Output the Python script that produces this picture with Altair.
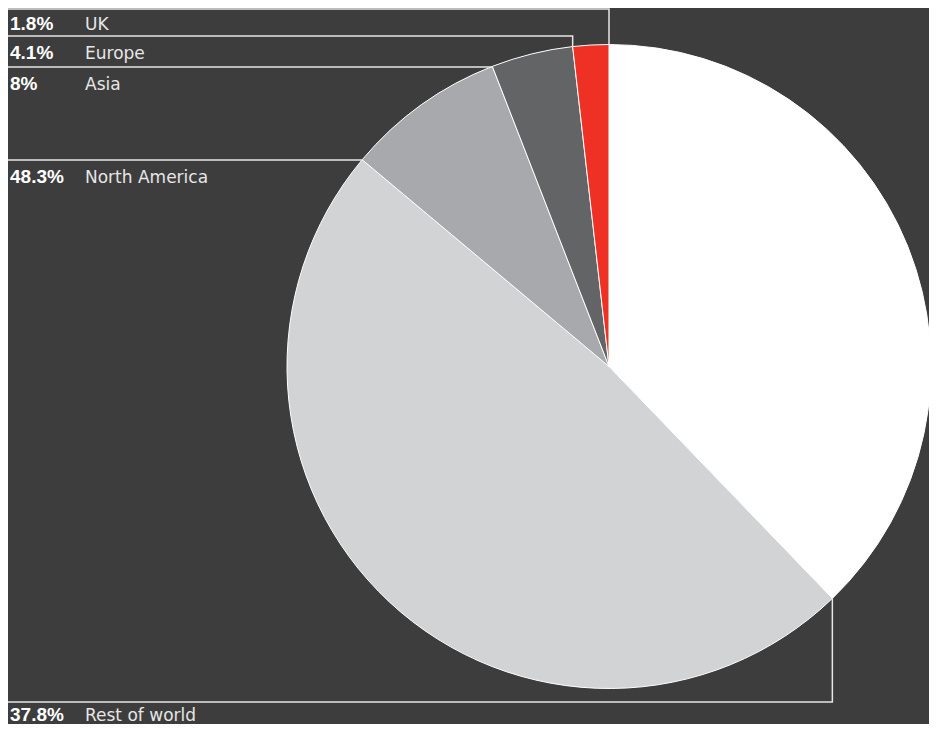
import math
import altair as alt
import pandas as pd

# ---- data (clockwise from 12 o'clock) ----
regions = ["Rest of world", "North America", "Asia", "Europe", "UK"]
shares = [37.8, 48.3, 8.0, 4.1, 1.8]

# ---- styles / layout ----
colors = ["#ffffff", "#d1d3d4", "#a7a9ac", "#636466", "#ee3124"]
label_line_y = [694, 152, 59, 28, 1]   # y of each leader's horizontal run (px)
label_gap = [19, 23, 23, 23, 21]       # baseline offset below each leader
W, H = 921, 716
CX, CY, R = 601, 358.5, 322
BG = "#3d3d3d"

starts, ends, acc = [], [], 0.0
for v in shares:
    starts.append(acc)
    acc += v
    ends.append(acc)

arc_df = pd.DataFrame({"region": regions, "share": shares, "start": starts, "end": ends})

# leader lines from each slice's end boundary on the rim, to the left edge
rows = []
for reg, e, ly in zip(regions, ends, label_line_y):
    a = e / 100 * 2 * math.pi
    ex = CX + R * math.sin(a)
    ey = CY - R * math.cos(a)
    rows += [
        {"region": reg, "seq": 0, "x": ex, "y": ey},
        {"region": reg, "seq": 1, "x": ex, "y": ly},
        {"region": reg, "seq": 2, "x": 0, "y": ly},
    ]
line_df = pd.DataFrame(rows)

text_df = pd.DataFrame({
    "region": regions,
    "pct": [f"{v:g}%" for v in shares],
    "ty": [ly + g for ly, g in zip(label_line_y, label_gap)],
})

xs = alt.Scale(domain=[0, W], range=[0, W], nice=False, zero=False)
ys = alt.Scale(domain=[0, H], range=[0, H], nice=False, zero=False)

arcs = alt.Chart(arc_df).mark_arc(radius=R, stroke="#ffffff", strokeWidth=1).encode(
    theta=alt.Theta("start:Q", scale=alt.Scale(domain=[0, 100], range=[0, 2 * math.pi])),
    theta2="end:Q",
    color=alt.Color("region:N", scale=alt.Scale(domain=regions, range=colors), legend=None),
    x=alt.value(CX),
    y=alt.value(CY),
)

lines = alt.Chart(line_df).mark_line(color="#e6e6e6", strokeWidth=1.5).encode(
    x=alt.X("x:Q", scale=xs, axis=None),
    y=alt.Y("y:Q", scale=ys, axis=None),
    detail="region:N",
    order=alt.Order("seq:Q"),
)

pct_text = alt.Chart(text_df).mark_text(
    align="left", baseline="alphabetic", font="Liberation Sans",
    fontSize=19, fontWeight="bold", color="#ffffff",
).encode(
    x=alt.value(2),
    y=alt.Y("ty:Q", scale=ys, axis=None),
    text="pct:N",
)

name_text = alt.Chart(text_df).mark_text(
    align="left", baseline="alphabetic", font="DejaVu Sans",
    fontSize=17, color="#e6e6e6",
).encode(
    x=alt.value(77),
    y=alt.Y("ty:Q", scale=ys, axis=None),
    text="region:N",
)

chart = alt.layer(arcs, lines, pct_text, name_text).properties(
    width=W, height=H, padding=0, autosize="none", background=BG,
).configure_view(stroke=None)

chart.save("out.html", embed_options={"renderer": "svg", "actions": False})
